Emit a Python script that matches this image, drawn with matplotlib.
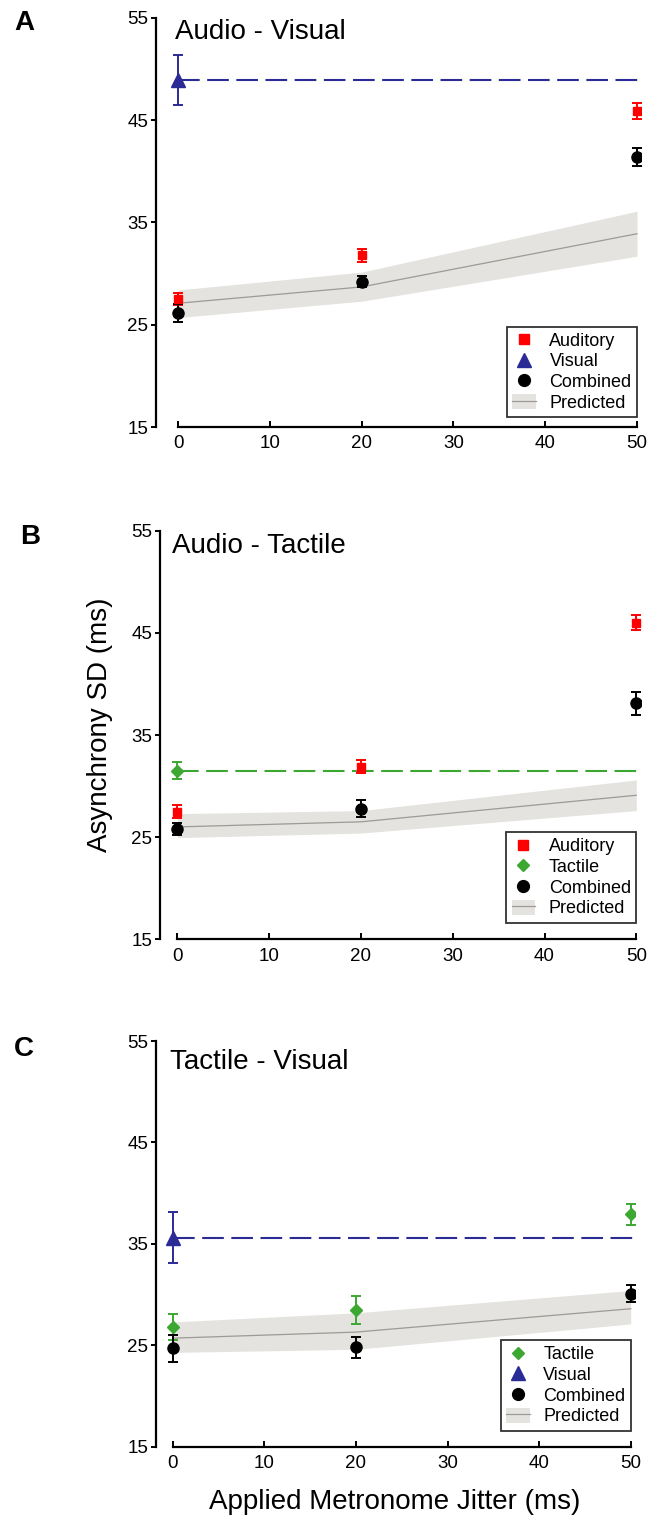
import matplotlib
matplotlib.use('Agg')
import matplotlib.pyplot as plt
from matplotlib.lines import Line2D
from matplotlib.patches import Patch

plt.rcParams['font.family'] = ['Liberation Sans', 'DejaVu Sans']

jitter = [0, 20, 50]

# Panel A: Audio - Visual
aud_A = [27.5, 31.8, 45.9]
aud_A_err = [0.6, 0.65, 0.75]
vis_A = 48.9
vis_A_err = 2.45
comb_A = [26.15, 29.2, 41.4]
comb_A_err = [0.85, 0.55, 0.9]
pred_A = [27.1, 28.7, 33.9]
pred_A_lo = [25.7, 27.3, 31.7]
pred_A_hi = [28.4, 30.15, 36.1]

# Panel B: Audio - Tactile
aud_B = [27.5, 31.9, 46.0]
aud_B_err = [0.6, 0.65, 0.75]
tac_B = 31.5
tac_B_err = 0.85
comb_B = [25.8, 27.8, 38.1]
comb_B_err = [0.55, 0.85, 1.1]
pred_B = [26.0, 26.5, 29.1]
pred_B_lo = [24.95, 25.4, 27.6]
pred_B_hi = [27.3, 27.6, 30.6]

# Panel C: Tactile - Visual
tac_C = [26.8, 28.5, 37.9]
tac_C_err = [1.25, 1.4, 1.0]
vis_C = 35.6
vis_C_err = 2.5
comb_C = [24.7, 24.8, 30.1]
comb_C_err = [1.3, 1.05, 0.8]
pred_C = [25.7, 26.3, 28.6]
pred_C_lo = [24.3, 24.6, 27.1]
pred_C_hi = [27.3, 28.2, 30.4]

yticks = [15, 25, 35, 45, 55]
xticks = [0, 10, 20, 30, 40, 50]

RED = '#ff0000'
BLUE = '#2b2b96'
GREEN = '#3ca832'
BAND = '#e4e3df'
PLINE = '#9e9a96'

W, H = 657, 1520
fig = plt.figure(figsize=(W / 100, H / 100), dpi=100)


def px_axes(left, right, top, bottom):
    return fig.add_axes([left / W, 1 - bottom / H, (right - left) / W, (bottom - top) / H])


def style(ax, x0px, x50px, left_px, right_px):
    ppu = (x50px - x0px) / 50.0
    ax.set_xlim(-(x0px - left_px) / ppu, (right_px - x0px) / ppu)
    ax.set_ylim(15, 55)
    for s in ('top', 'right'):
        ax.spines[s].set_visible(False)
    ax.spines['left'].set_linewidth(1.6)
    ax.spines['bottom'].set_linewidth(1.6)
    ax.spines['bottom'].set_bounds(0, 50)
    ax.spines['left'].set_bounds(15, 55)
    ax.set_xticks(xticks)
    ax.set_yticks(yticks)
    ax.tick_params(axis='x', direction='in', length=4.5, width=1.4, labelsize=13.5, pad=6)
    ax.tick_params(axis='y', direction='out', length=3.5, width=1.4, labelsize=13.5, pad=2)
    ax.patch.set_alpha(0)


def predicted(ax, mid, lo, hi):
    ax.fill_between(jitter, lo, hi, color=BAND, lw=0, zorder=1)
    ax.plot(jitter, mid, color=PLINE, lw=0.9, zorder=2)


def ebar(ax, x, y, e, color, marker, ms):
    ax.errorbar(x, y, yerr=e, fmt=marker, color=color, ms=ms, mec=color, mfc=color,
                ecolor=color, elinewidth=1.4, capsize=3.6, capthick=1.4, zorder=4)


def unimodal(ax, y, e, color, marker, ms):
    ax.plot([0, 50.2], [y, y], color=color, lw=1.5, ls=(0, (10.4, 3.6)), zorder=3)
    ebar(ax, [0], [y], [e], color, marker, ms)


def legend(ax, entries, right_px, bottom_px):
    handles = []
    labels = []
    for lab, color, marker, ms in entries:
        handles.append(Line2D([], [], ls='none', marker=marker, color=color, ms=ms))
        labels.append(lab)
    handles.append((Patch(color=BAND, lw=0), Line2D([], [], color=PLINE, lw=0.9)))
    labels.append('Predicted')
    leg = ax.legend(handles, labels, loc='lower right',
                    bbox_to_anchor=(right_px / W, 1 - bottom_px / H),
                    bbox_transform=fig.transFigure, borderaxespad=0,
                    fontsize=13, frameon=True, fancybox=False, edgecolor='black',
                    borderpad=0.3, labelspacing=0.16, handlelength=1.3,
                    handletextpad=0.75, handleheight=0.9)
    leg.get_frame().set_linewidth(1.3)
    leg.set_zorder(10)


aud = ('Auditory', RED, 's', 7)
vis = ('Visual', BLUE, '^', 9.5)
tac = ('Tactile', GREEN, 'D', 6)
comb = ('Combined', 'black', 'o', 8.5)

# ---- A
axA = px_axes(156, 641, 18, 427)
style(axA, 178, 637, 156, 641)
predicted(axA, pred_A, pred_A_lo, pred_A_hi)
unimodal(axA, vis_A, vis_A_err, BLUE, '^', 9.5)
ebar(axA, jitter, aud_A, aud_A_err, RED, 's', 6)
ebar(axA, jitter, comb_A, comb_A_err, 'black', 'o', 8)
legend(axA, [aud, vis, comb], 637, 417)
fig.text(175 / W, 1 - 39 / H, 'Audio - Visual', fontsize=20, va='baseline', ha='left')
fig.text(14 / W, 1 - 10 / H, 'A', fontsize=20, fontweight='bold', va='top', ha='left')

# ---- B
axB = px_axes(160, 641, 530.7, 939.3)
style(axB, 177.3, 636.3, 160, 641)
predicted(axB, pred_B, pred_B_lo, pred_B_hi)
unimodal(axB, tac_B, tac_B_err, GREEN, 'D', 6)
ebar(axB, jitter, aud_B, aud_B_err, RED, 's', 6)
ebar(axB, jitter, comb_B, comb_B_err, 'black', 'o', 8)
legend(axB, [aud, tac, comb], 636.3, 922.7)
fig.text(172 / W, 1 - 553 / H, 'Audio - Tactile', fontsize=20, va='baseline', ha='left')
fig.text(20 / W, 1 - 524 / H, 'B', fontsize=20, fontweight='bold', va='top', ha='left')

# ---- C
axC = px_axes(156, 635, 1041, 1446.7)
style(axC, 172.7, 630.7, 156, 635)
predicted(axC, pred_C, pred_C_lo, pred_C_hi)
unimodal(axC, vis_C, vis_C_err, BLUE, '^', 9.5)
ebar(axC, jitter, tac_C, tac_C_err, GREEN, 'D', 6)
ebar(axC, jitter, comb_C, comb_C_err, 'black', 'o', 8)
legend(axC, [tac, vis, comb], 630.7, 1430.7)
fig.text(170 / W, 1 - 1069 / H, 'Tactile - Visual', fontsize=20, va='baseline', ha='left')
fig.text(14 / W, 1 - 1036 / H, 'C', fontsize=20, fontweight='bold', va='top', ha='left')

fig.text(100 / W, 1 - 725 / H, 'Asynchrony SD (ms)', fontsize=20, rotation=90,
         ha='center', va='center')
fig.text(395 / W, 1 - 1502 / H, 'Applied Metronome Jitter (ms)', fontsize=20,
         ha='center', va='center')

fig.savefig('out.png', dpi=100)
